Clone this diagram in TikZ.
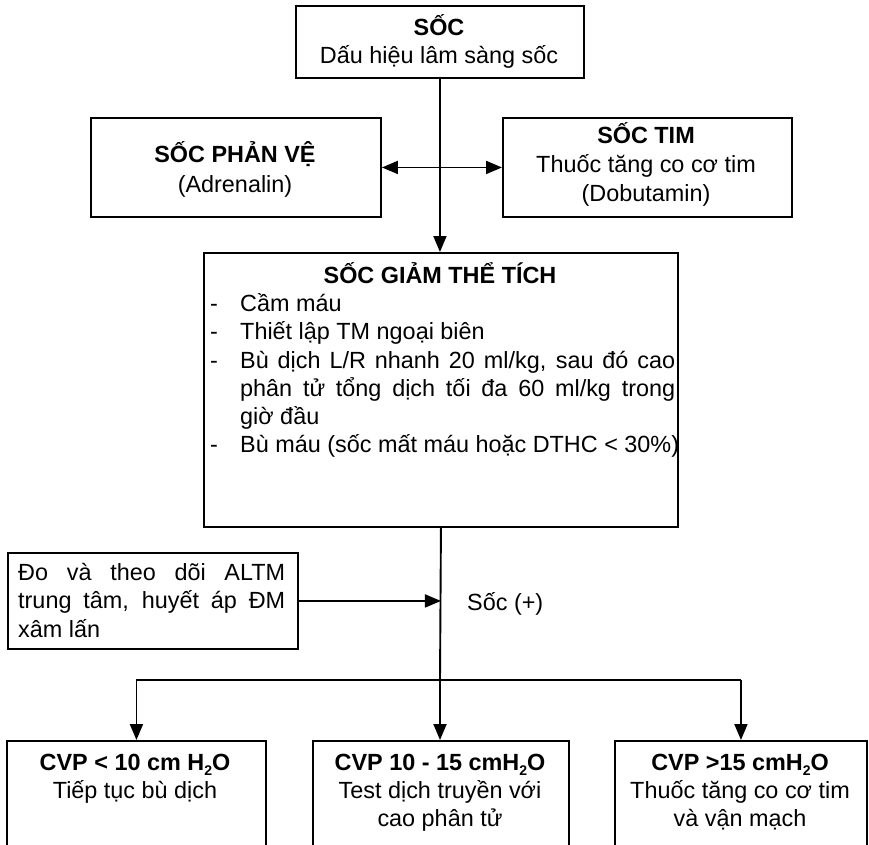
\documentclass[tikz,border=0pt]{standalone}
\usepackage{fontspec}
\setmainfont{Liberation Sans}
\usetikzlibrary{arrows.meta}
\newcommand\flowfont{\fontsize{23.4}{28}\selectfont}
\newcommand\subtwo{\raisebox{-5pt}{\fontsize{14}{14}\selectfont 2}}
\begin{document}
\begin{tikzpicture}[x=1pt,y=-1pt,
  box/.style={draw, line width=1.9pt, inner sep=0pt, anchor=north west},
  txt/.style={inner sep=0pt, font=\flowfont, anchor=base},
  lefttxt/.style={txt, anchor=base west},
  link/.style={line width=1.9pt},
  tip/.tip={Triangle[length=16pt,width=13pt]},
  arr/.style={link, -tip},
]
\clip (0,0) rectangle (869,844);
\fill[white] (0,0) rectangle (869,844);

% boxes
\node[box, minimum width=288pt, minimum height=72pt]  (top)     at (295,5)   {};
\node[box, minimum width=290pt, minimum height=99pt]  (anaph)   at (90,117)  {};
\node[box, minimum width=289pt, minimum height=99pt]  (cardio)  at (502,117) {};
\node[box, minimum width=474pt, minimum height=274pt] (hypo)    at (203,252) {};
\node[box, minimum width=290pt, minimum height=96pt]  (monitor) at (7,552)   {};
\node[box, minimum width=259pt, minimum height=140pt] (cvpA)    at (6,740)   {};
\node[box, minimum width=256pt, minimum height=140pt] (cvpB)    at (312,740) {};
\node[box, minimum width=252pt, minimum height=140pt] (cvpC)    at (614,740) {};

% top box
\node[txt] (topA) at (439,35) {\bfseries SỐC};
\node[txt] (topB) at (439,63) {Dấu hiệu lâm sàng sốc};

% anaphylactic shock
\node[txt] (anaphA) at (235,162) {\bfseries SỐC PHẢN VỆ};
\node[txt] (anaphB) at (235,192) {(Adrenalin)};

% cardiogenic shock
\node[txt] (cardioA) at (646,143) {\bfseries SỐC TIM};
\node[txt] (cardioB) at (646,172) {Thuốc tăng co cơ tim};
\node[txt] (cardioC) at (646,201) {(Dobutamin)};

% hypovolemic shock
\node[txt] (hypoT) at (440,283) {\bfseries SỐC GIẢM THỂ TÍCH};
\node[lefttxt] (dA) at (210,311) {-};
\node[lefttxt] (dB) at (210,339) {-};
\node[lefttxt] (dC) at (210,368) {-};
\node[lefttxt] (dD) at (210,452) {-};
\node[lefttxt] (hA) at (240,311) {Cầm máu};
\node[lefttxt] (hB) at (240,339) {Thiết lập TM ngoại biên};
\node[lefttxt] (hC) at (240,368) {\makebox[435pt][s]{Bù dịch L/R nhanh 20 ml/kg, sau đó cao}};
\node[lefttxt] (hD) at (240,396) {\makebox[435pt][s]{phân tử tổng dịch tối đa 60 ml/kg trong}};
\node[lefttxt] (hE) at (240,424) {giờ đầu};
\node[lefttxt] (hF) at (240,452) {Bù máu (sốc mất máu hoặc DTHC < 30\%)};

% monitoring
\node[lefttxt] (mA) at (18,580) {\makebox[267pt][s]{Đo và theo dõi ALTM}};
\node[lefttxt] (mB) at (18,608) {\makebox[267pt][s]{trung tâm, huyết áp ĐM}};
\node[lefttxt] (mC) at (18,637) {xâm lấn};
\node[lefttxt] (still) at (467,610) {Sốc (+)};

% CVP branches
\node[txt] (cAa) at (135,770) {\bfseries CVP < 10 cm H\subtwo O};
\node[txt] (cAb) at (135,798) {Tiếp tục bù dịch};
\node[txt] (cBa) at (440,770) {\bfseries CVP 10 - 15 cmH\subtwo O};
\node[txt] (cBb) at (440,798) {Test dịch truyền với};
\node[txt] (cBc) at (440,826) {cao phân tử};
\node[txt] (cCa) at (740,770) {\bfseries CVP >15 cmH\subtwo O};
\node[txt] (cCb) at (740,798) {Thuốc tăng co cơ tim};
\node[txt] (cCc) at (740,826) {và vận mạch};

% connectors
\coordinate (split) at (440,680);
\draw[arr] (top.south) -- (top.south |- hypo.north);
\draw[link, tip-tip] (anaph.east) -- (cardio.west);
\draw[link] (hypo.south) -- (split);
\draw[arr] (monitor.east) -- (monitor.east -| hypo.south);
\draw[link] (cvpA.north |- split) -- (cvpC.north |- split);
\draw[arr] (cvpA.north |- split) -- (cvpA.north);
\draw[arr] (split) -- (split |- cvpB.north);
\draw[arr] (cvpC.north |- split) -- (cvpC.north);
\end{tikzpicture}
\end{document}
